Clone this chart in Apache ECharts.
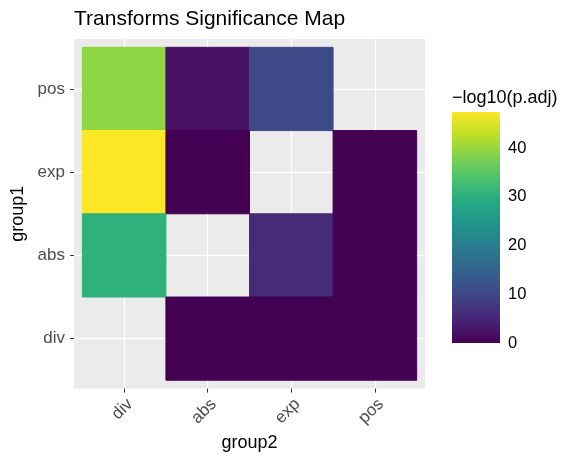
<!DOCTYPE html>
<html>
<head>
<meta charset="utf-8">
<script src="https://cdn.jsdelivr.net/npm/echarts@6/dist/echarts.min.js"></script>
<style>
  html, body { margin: 0; padding: 0; background: #fff; }
  #chart { width: 563px; height: 457px; }
</style>
</head>
<body>
<div id="chart"></div>
<script>
// Category order on both axes (bottom-to-top for group1, left-to-right for group2)
const group1Cats = ['div', 'abs', 'exp', 'pos'];
const group2Cats = ['div', 'abs', 'exp', 'pos'];

// Pairwise comparisons: one entry per tile
const cellGroup1 = ['pos', 'pos', 'pos', 'exp', 'exp', 'exp', 'abs', 'abs', 'abs', 'div', 'div', 'div'];
const cellGroup2 = ['div', 'abs', 'exp', 'div', 'abs', 'pos', 'div', 'exp', 'pos', 'abs', 'exp', 'pos'];
const negLog10Padj = [39.4, 2.2, 10.5, 47.4, 0.0, 0.2, 30.3, 5.8, 0.1, 0.0, 0.0, 0.0];

// Colour bar
const legendTicks = [0, 10, 20, 30, 40];
const legendMax = Math.max(...negLog10Padj);

const viridis = ['#440154', '#482475', '#414487', '#355F8D', '#2A788E', '#21918C',
                 '#22A884', '#44BF70', '#7AD151', '#BDDF26', '#FDE725'];

const FONT = "'Liberation Sans', Arial, sans-serif";

const tiles = cellGroup1.map((g1, i) => [
  group2Cats.indexOf(cellGroup2[i]) + 1,
  group1Cats.indexOf(g1) + 1,
  negLog10Padj[i]
]);
const catPositions = group2Cats.map((_, i) => i + 1);

const chart = echarts.init(document.getElementById('chart'), null, { renderer: 'canvas' });

chart.setOption({
  animation: false,
  backgroundColor: '#ffffff',
  title: {
    text: 'Transforms Significance Map',
    left: 69, top: 4,
    textStyle: { fontFamily: FONT, fontSize: 21, fontWeight: 'normal', color: '#000' }
  },
  graphic: [{
    type: 'text',
    left: 452, top: 89,
    style: { text: '\u2212log10(p.adj)', font: '18px ' + FONT, fill: '#000' }
  }],
  visualMap: {
    show: false,
    type: 'continuous',
    min: 0, max: legendMax,
    dimension: 2,
    seriesIndex: 0,
    inRange: { color: viridis }
  },
  grid: [
    { left: 74, top: 39, width: 351, height: 350, show: true,
      backgroundColor: '#EBEBEB', borderWidth: 0 },
    { left: 452, top: 112, width: 48, height: 231, show: false }
  ],
  xAxis: [
    {
      gridIndex: 0, type: 'value', min: 0.4, max: 4.6,
      name: 'group2', nameLocation: 'middle', nameGap: 43,
      nameTextStyle: { fontFamily: FONT, fontSize: 18, color: '#000' },
      axisLine: { show: false },
      axisTick: { show: true, length: 4, lineStyle: { color: '#333', width: 1 },
                  customValues: catPositions },
      axisLabel: { customValues: catPositions, rotate: 45, margin: 7,
                   align: 'right', verticalAlign: 'top',
                   fontFamily: FONT, fontSize: 17, color: '#4D4D4D',
                   formatter: v => group2Cats[Math.round(v) - 1] },
      splitLine: { show: true, lineStyle: { color: '#fff', width: 1.3 } }
    },
    { gridIndex: 1, type: 'value', min: 0, max: 1, show: false }
  ],
  yAxis: [
    {
      gridIndex: 0, type: 'value', min: 0.4, max: 4.6,
      name: 'group1', nameLocation: 'middle', nameGap: 47, nameRotate: 90,
      nameTextStyle: { fontFamily: FONT, fontSize: 18, color: '#000' },
      axisLine: { show: false },
      axisTick: { show: true, length: 4, lineStyle: { color: '#333', width: 1 },
                  customValues: catPositions },
      axisLabel: { customValues: catPositions, margin: 9,
                   fontFamily: FONT, fontSize: 17, color: '#4D4D4D',
                   formatter: v => group1Cats[Math.round(v) - 1] },
      splitLine: { show: true, lineStyle: { color: '#fff', width: 1.3 } }
    },
    {
      gridIndex: 1, type: 'value', min: 0, max: legendMax, position: 'left',
      axisLine: { show: false },
      axisTick: { show: true, inside: true, length: 9.6, customValues: legendTicks,
                  lineStyle: { color: 'rgba(255,255,255,0.75)', width: 1 } },
      axisLabel: { show: false },
      splitLine: { show: false }
    },
    {
      gridIndex: 1, type: 'value', min: 0, max: legendMax, position: 'right',
      axisLine: { show: false },
      axisTick: { show: true, inside: true, length: 9.6, customValues: legendTicks,
                  lineStyle: { color: 'rgba(255,255,255,0.75)', width: 1 } },
      axisLabel: { customValues: legendTicks, margin: 8,
                   fontFamily: FONT, fontSize: 16.5, color: '#000' },
      splitLine: { show: false }
    }
  ],
  series: [
    {
      type: 'custom',
      xAxisIndex: 0, yAxisIndex: 0,
      data: tiles,
      renderItem: (params, api) => {
        const x = api.value(0), y = api.value(1);
        const p0 = api.coord([x - 0.5, y + 0.5]);
        const p1 = api.coord([x + 0.5, y - 0.5]);
        return {
          type: 'rect',
          shape: { x: p0[0], y: p0[1], width: p1[0] - p0[0], height: p1[1] - p0[1] },
          style: { fill: api.visual('color'), stroke: api.visual('color'), lineWidth: 1 }
        };
      },
      z: 3
    },
    {
      type: 'custom',
      xAxisIndex: 1, yAxisIndex: 1,
      data: [[0.5, legendMax / 2]],
      renderItem: (params, api) => {
        const cs = params.coordSys;
        return {
          type: 'rect',
          shape: { x: cs.x, y: cs.y, width: cs.width, height: cs.height },
          style: {
            fill: new echarts.graphic.LinearGradient(0, 1, 0, 0,
              viridis.map((c, i) => ({ offset: i / (viridis.length - 1), color: c })))
          }
        };
      },
      z: 1
    }
  ]
});
</script>
</body>
</html>
